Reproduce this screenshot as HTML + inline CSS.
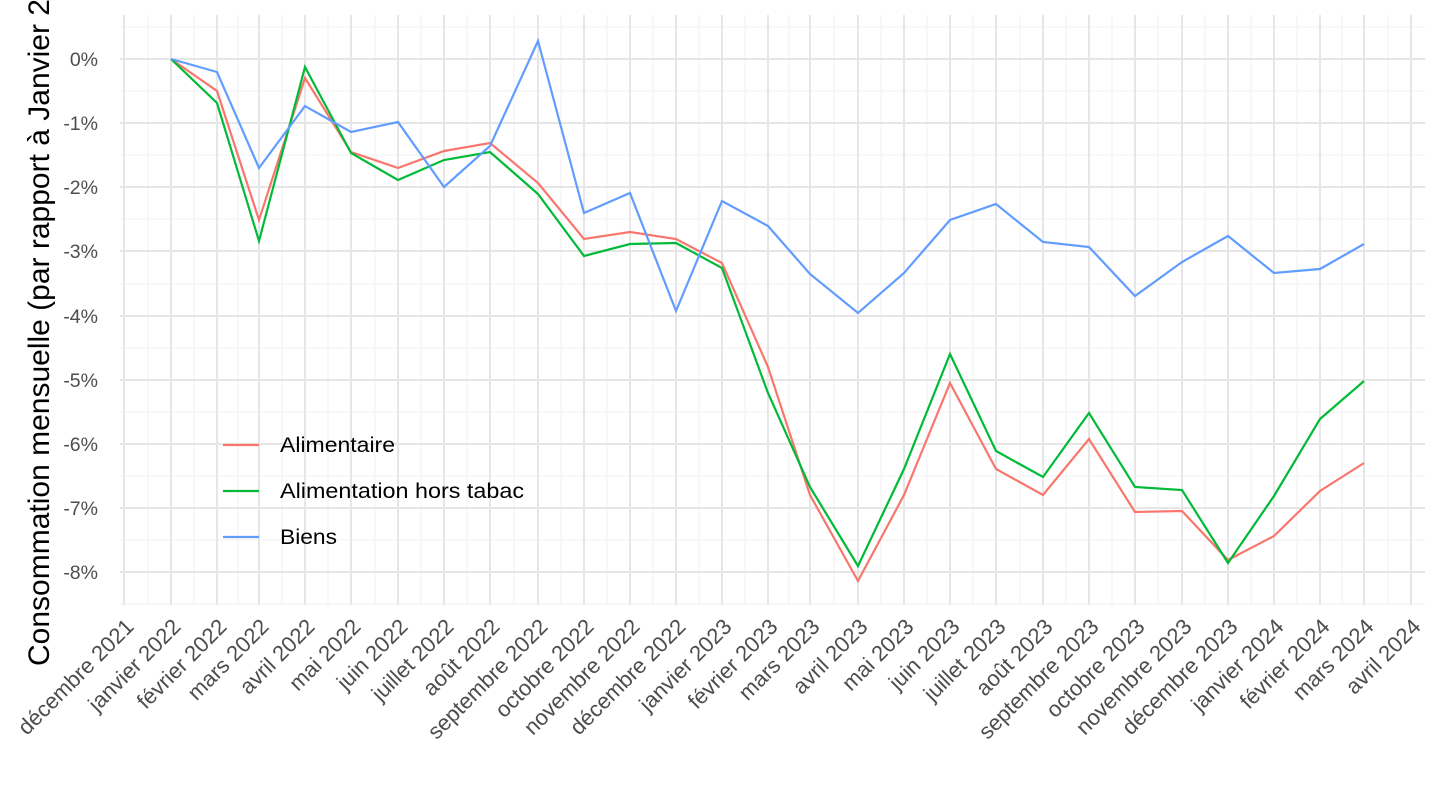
<!DOCTYPE html>
<html><head><meta charset="utf-8"><style>body{margin:0;background:#fff}svg{display:block}</style></head>
<body>
<svg width="1440" height="810" xmlns="http://www.w3.org/2000/svg" font-family="Liberation Sans, Arial, sans-serif">
<g stroke="#f2f2f2" stroke-width="1">
<line x1="120" x2="1425" y1="27" y2="27"/><line x1="120" x2="1425" y1="91" y2="91"/><line x1="120" x2="1425" y1="155" y2="155"/><line x1="120" x2="1425" y1="219" y2="219"/><line x1="120" x2="1425" y1="284" y2="284"/><line x1="120" x2="1425" y1="348" y2="348"/><line x1="120" x2="1425" y1="412" y2="412"/><line x1="120" x2="1425" y1="476" y2="476"/><line x1="120" x2="1425" y1="540" y2="540"/><line x1="120" x2="1425" y1="604" y2="604"/>
<line x1="148" x2="148" y1="15" y2="605"/><line x1="194" x2="194" y1="15" y2="605"/><line x1="238" x2="238" y1="15" y2="605"/><line x1="282" x2="282" y1="15" y2="605"/><line x1="328" x2="328" y1="15" y2="605"/><line x1="375" x2="375" y1="15" y2="605"/><line x1="421" x2="421" y1="15" y2="605"/><line x1="467" x2="467" y1="15" y2="605"/><line x1="514" x2="514" y1="15" y2="605"/><line x1="561" x2="561" y1="15" y2="605"/><line x1="607" x2="607" y1="15" y2="605"/><line x1="653" x2="653" y1="15" y2="605"/><line x1="699" x2="699" y1="15" y2="605"/><line x1="745" x2="745" y1="15" y2="605"/><line x1="789" x2="789" y1="15" y2="605"/><line x1="834" x2="834" y1="15" y2="605"/><line x1="881" x2="881" y1="15" y2="605"/><line x1="927" x2="927" y1="15" y2="605"/><line x1="973" x2="973" y1="15" y2="605"/><line x1="1020" x2="1020" y1="15" y2="605"/><line x1="1066" x2="1066" y1="15" y2="605"/><line x1="1112" x2="1112" y1="15" y2="605"/><line x1="1158" x2="1158" y1="15" y2="605"/><line x1="1205" x2="1205" y1="15" y2="605"/><line x1="1251" x2="1251" y1="15" y2="605"/><line x1="1297" x2="1297" y1="15" y2="605"/><line x1="1342" x2="1342" y1="15" y2="605"/><line x1="1388" x2="1388" y1="15" y2="605"/>
</g>
<g stroke="#e6e6e6" stroke-width="2">
<line x1="120" x2="1425" y1="59" y2="59"/><line x1="120" x2="1425" y1="123" y2="123"/><line x1="120" x2="1425" y1="187" y2="187"/><line x1="120" x2="1425" y1="251" y2="251"/><line x1="120" x2="1425" y1="316" y2="316"/><line x1="120" x2="1425" y1="380" y2="380"/><line x1="120" x2="1425" y1="444" y2="444"/><line x1="120" x2="1425" y1="508" y2="508"/><line x1="120" x2="1425" y1="572" y2="572"/>
<line x1="124" x2="124" y1="15" y2="605"/><line x1="171" x2="171" y1="15" y2="605"/><line x1="217" x2="217" y1="15" y2="605"/><line x1="259" x2="259" y1="15" y2="605"/><line x1="305" x2="305" y1="15" y2="605"/><line x1="351" x2="351" y1="15" y2="605"/><line x1="398" x2="398" y1="15" y2="605"/><line x1="444" x2="444" y1="15" y2="605"/><line x1="490" x2="490" y1="15" y2="605"/><line x1="538" x2="538" y1="15" y2="605"/><line x1="584" x2="584" y1="15" y2="605"/><line x1="630" x2="630" y1="15" y2="605"/><line x1="676" x2="676" y1="15" y2="605"/><line x1="722" x2="722" y1="15" y2="605"/><line x1="768" x2="768" y1="15" y2="605"/><line x1="810" x2="810" y1="15" y2="605"/><line x1="858" x2="858" y1="15" y2="605"/><line x1="904" x2="904" y1="15" y2="605"/><line x1="950" x2="950" y1="15" y2="605"/><line x1="996" x2="996" y1="15" y2="605"/><line x1="1043" x2="1043" y1="15" y2="605"/><line x1="1089" x2="1089" y1="15" y2="605"/><line x1="1135" x2="1135" y1="15" y2="605"/><line x1="1182" x2="1182" y1="15" y2="605"/><line x1="1228" x2="1228" y1="15" y2="605"/><line x1="1274" x2="1274" y1="15" y2="605"/><line x1="1320" x2="1320" y1="15" y2="605"/><line x1="1364" x2="1364" y1="15" y2="605"/><line x1="1411" x2="1411" y1="15" y2="605"/>
</g>
<g fill="none" stroke-width="2.2">
<polyline stroke="#F8766D" points="171,59 217,91 259,220 305,78 351,152 398,168 444,151 490,143 538,183 584,239 630,232 676,239 722,263 768,367 810,495 858,581 904,495 950,383 996,469 1043,495 1089,439 1135,512 1182,511 1228,560 1274,536 1320,491 1364,463"/>
<polyline stroke="#00BA38" points="171,59 217,103 259,241 305,67 351,153 398,180 444,160 490,152 538,194 584,256 630,244 676,243 722,268 768,393 810,487 858,566 904,469 950,354 996,451 1043,477 1089,413 1135,487 1182,490 1228,563 1274,496 1320,419 1364,381"/>
<polyline stroke="#619CFF" points="171,59 217,72 259,168 305,106 351,132 398,122 444,187 490,146 538,41 584,213 630,193 676,311 722,201 768,226 810,274 858,313 904,273 950,220 996,204 1043,242 1089,247 1135,296 1182,262 1228,236 1274,273 1320,269 1364,244"/>
</g>
<g font-size="19.5" fill="#4d4d4d" text-anchor="end">
<text x="98" y="66">0%</text><text x="98" y="130">-1%</text><text x="98" y="194">-2%</text><text x="98" y="258">-3%</text><text x="98" y="323">-4%</text><text x="98" y="387">-5%</text><text x="98" y="451">-6%</text><text x="98" y="515">-7%</text><text x="98" y="579">-8%</text>
</g>
<g font-size="22" fill="#4d4d4d" text-anchor="end">
<text transform="translate(135,628) rotate(-45)">décembre 2021</text>
<text transform="translate(182,628) rotate(-45)">janvier 2022</text>
<text transform="translate(228,628) rotate(-45)">février 2022</text>
<text transform="translate(270,628) rotate(-45)">mars 2022</text>
<text transform="translate(316,628) rotate(-45)">avril 2022</text>
<text transform="translate(362,628) rotate(-45)">mai 2022</text>
<text transform="translate(409,628) rotate(-45)">juin 2022</text>
<text transform="translate(455,628) rotate(-45)">juillet 2022</text>
<text transform="translate(501,628) rotate(-45)">août 2022</text>
<text transform="translate(549,628) rotate(-45)">septembre 2022</text>
<text transform="translate(595,628) rotate(-45)">octobre 2022</text>
<text transform="translate(641,628) rotate(-45)">novembre 2022</text>
<text transform="translate(687,628) rotate(-45)">décembre 2022</text>
<text transform="translate(733,628) rotate(-45)">janvier 2023</text>
<text transform="translate(779,628) rotate(-45)">février 2023</text>
<text transform="translate(821,628) rotate(-45)">mars 2023</text>
<text transform="translate(869,628) rotate(-45)">avril 2023</text>
<text transform="translate(915,628) rotate(-45)">mai 2023</text>
<text transform="translate(961,628) rotate(-45)">juin 2023</text>
<text transform="translate(1007,628) rotate(-45)">juillet 2023</text>
<text transform="translate(1054,628) rotate(-45)">août 2023</text>
<text transform="translate(1100,628) rotate(-45)">septembre 2023</text>
<text transform="translate(1146,628) rotate(-45)">octobre 2023</text>
<text transform="translate(1193,628) rotate(-45)">novembre 2023</text>
<text transform="translate(1239,628) rotate(-45)">décembre 2023</text>
<text transform="translate(1285,628) rotate(-45)">janvier 2024</text>
<text transform="translate(1331,628) rotate(-45)">février 2024</text>
<text transform="translate(1375,628) rotate(-45)">mars 2024</text>
<text transform="translate(1422,628) rotate(-45)">avril 2024</text>
</g>
<text transform="translate(49,666) rotate(-90)" font-size="30" fill="#000">Consommation mensuelle (par rapport à Janvier 2022)</text>
<g stroke-width="2.2">
<line x1="223" x2="259" y1="445" y2="445" stroke="#F8766D"/>
<line x1="223" x2="259" y1="491" y2="491" stroke="#00BA38"/>
<line x1="223" x2="259" y1="537" y2="537" stroke="#619CFF"/>
</g>
<g font-size="21.5" fill="#000">
<text x="280" y="452" textLength="115" lengthAdjust="spacingAndGlyphs">Alimentaire</text>
<text x="280" y="498" textLength="244" lengthAdjust="spacingAndGlyphs">Alimentation hors tabac</text>
<text x="280" y="544" textLength="57" lengthAdjust="spacingAndGlyphs">Biens</text>
</g>
</svg>
</body></html>
